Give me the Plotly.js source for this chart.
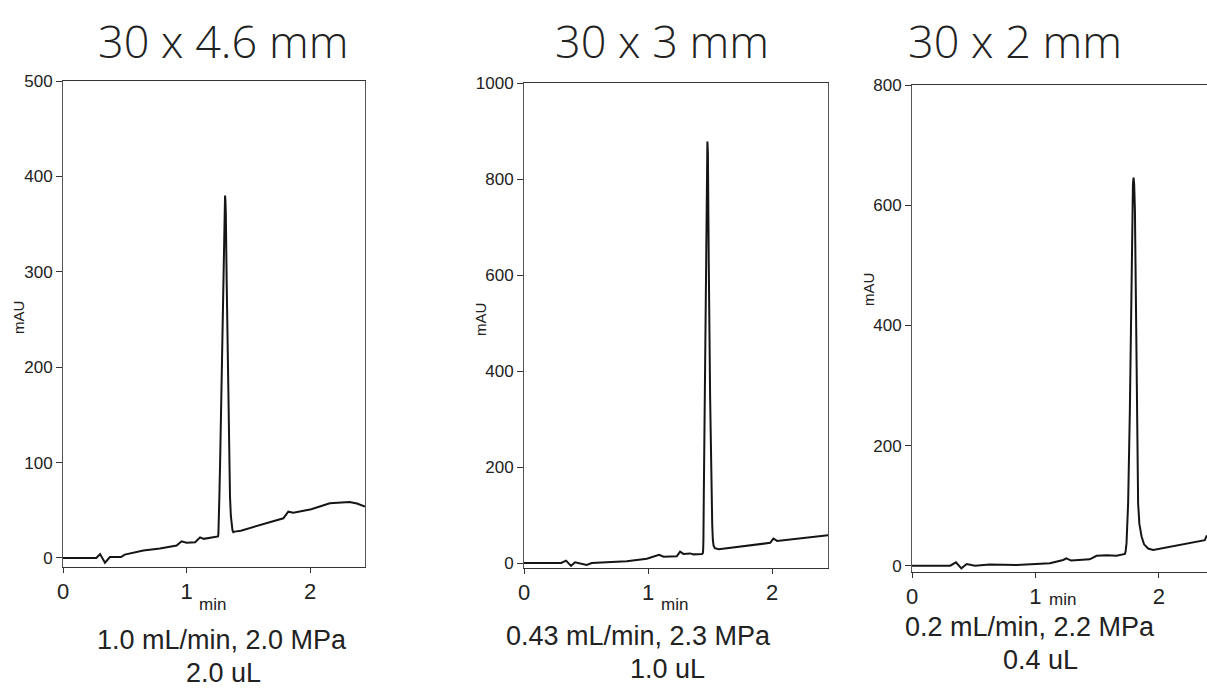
<!DOCTYPE html>
<html>
<head>
<meta charset="utf-8">
<script src="https://cdn.plot.ly/plotly-3.0.1.min.js"></script>
<style>
html,body{margin:0;padding:0;background:#fff;}
#chart{width:1207px;height:690px;}
</style>
</head>
<body>
<div id="chart"></div>
<script>
// ---- Data ----
const panelTitles = ["30 x 4.6 mm", "30 x 3 mm", "30 x 2 mm"];
const conditionLines = ["1.0 mL/min, 2.0 MPa", "0.43 mL/min, 2.3 MPa", "0.2 mL/min, 2.2 MPa"];
const volumeLines = ["2.0 uL", "1.0 uL", "0.4 uL"];
const xTickVals = [0, 1, 2];
const xTickText = ["0", "1", "2"];
const yTicks1 = [0, 100, 200, 300, 400, 500];
const yTicks2 = [0, 200, 400, 600, 800, 1000];
const yTicks3 = [0, 200, 400, 600, 800];

const p1Time = [0, 0.27, 0.30, 0.34, 0.38, 0.47, 0.50, 0.65, 0.785, 0.92, 0.96, 1.00, 1.07, 1.11, 1.14, 1.22,
  1.255, 1.258, 1.262, 1.266, 1.272, 1.279, 1.298, 1.306, 1.309, 1.312, 1.315, 1.318, 1.325, 1.338,
  1.345, 1.352, 1.359, 1.366, 1.372, 1.379, 1.39, 1.44,
  1.784, 1.824, 1.865, 2.01, 2.16, 2.32, 2.38, 2.445];
const p1mAU = [0, 0, 4, -5, 1, 1, 3.5, 7.7, 10, 13, 17.5, 16, 16.5, 21.6, 20, 21.6,
  22.5, 25, 40, 64, 100, 152, 291, 362, 375, 380, 375, 362, 291, 152,
  100, 64, 44, 33, 29, 27, 27.6, 28.6,
  41.6, 48.5, 47.5, 51, 57.3, 58.7, 57, 53.8];

const p2Time = [0, 0.30, 0.339, 0.379, 0.411, 0.465, 0.505, 0.546, 0.828, 0.99, 1.04, 1.089, 1.125, 1.231, 1.258,
  1.285, 1.339, 1.366, 1.433, 1.441, 1.444, 1.446, 1.449, 1.457, 1.465, 1.470, 1.474, 1.478, 1.482, 1.486,
  1.489, 1.50, 1.511, 1.517, 1.522, 1.528, 1.538, 1.554, 1.57, 1.984, 2.01, 2.04, 2.45];
const p2mAU = [0, 0, 5, -6, 1.4, -1.4, -4, 0, 3.5, 9, 13, 17, 13, 14, 23.6,
  19, 20, 18, 19, 20, 28, 48, 138, 346, 624, 780, 855, 878, 855, 780,
  624, 346, 138, 80, 48, 36, 31, 29, 28.5, 42, 51, 46, 58];

const p3Time = [0, 0.31, 0.356, 0.40, 0.443, 0.51, 0.63, 0.848, 1.117, 1.225, 1.25, 1.29, 1.44, 1.495, 1.576,
  1.657, 1.725, 1.731, 1.738, 1.745, 1.751, 1.765, 1.779, 1.784, 1.790, 1.795, 1.800, 1.806, 1.814, 1.819,
  1.832, 1.842, 1.86, 1.88, 1.913, 1.954, 2.372, 2.389];
const p3mAU = [0.5, 0.5, 6, -4, 3.3, 0.5, 2.5, 1.5, 4.4, 10, 12.7, 9, 11, 17, 18,
  17, 20, 25, 38, 65, 104, 259, 453, 592, 635, 646, 635, 592, 453, 259,
  104, 70, 49, 36, 29, 26.6, 43, 51];

// ---- Layout helpers (pixel -> paper) ----
const W = 1207, H = 690;
const px = v => v / W;
const py = v => 1 - v / H;

const lineStyle = {color: '#151515', width: 2};
const traces = [
  {x: p1Time, y: p1mAU, xaxis: 'x', yaxis: 'y', mode: 'lines', line: lineStyle, hoverinfo: 'skip'},
  {x: p2Time, y: p2mAU, xaxis: 'x2', yaxis: 'y2', mode: 'lines', line: lineStyle, hoverinfo: 'skip'},
  {x: p3Time, y: p3mAU, xaxis: 'x3', yaxis: 'y3', mode: 'lines', line: lineStyle, hoverinfo: 'skip'}
];

const tickFontY = {family: 'Liberation Sans, Arial, sans-serif', size: 17, color: '#222'};
const tickFontX = {family: 'Liberation Sans, Arial, sans-serif', size: 22, color: '#222'};

function xAxis(d, r, anchor) {
  return {domain: d, range: r, anchor: anchor, tickvals: xTickVals, ticktext: xTickText,
    ticks: 'outside', ticklen: 5, tickcolor: '#333', showline: true, linecolor: '#333', linewidth: 1,
    mirror: true, showgrid: false, zeroline: false, tickfont: tickFontX, fixedrange: true};
}
function yAxis(d, r, anchor, tv, mirror) {
  return {domain: d, range: r, anchor: anchor, tickvals: tv, ticks: 'outside', ticklen: 6,
    tickcolor: '#333', showline: true, linecolor: '#555', linewidth: 1, mirror: mirror,
    showgrid: false, zeroline: false, tickfont: tickFontY, fixedrange: true};
}

const titleFont = {family: 'Open Sans, sans-serif', size: 45, color: '#222', weight: 300};
const condFont = {family: 'Liberation Sans, Arial, sans-serif', size: 27, color: '#222'};
const smallFont = {family: 'Liberation Sans, Arial, sans-serif', size: 15, color: '#222'};
const minFont = {family: 'Liberation Sans, Arial, sans-serif', size: 17, color: '#222'};

function ann(text, x, y, font, extra) {
  return Object.assign({text: text, x: px(x), y: py(y), xref: 'paper', yref: 'paper',
    showarrow: false, font: font, xanchor: 'center', yanchor: 'middle', borderpad: 0}, extra || {});
}

const annotations = [
  ann(panelTitles[0], 223, 40, titleFont),
  ann(panelTitles[1], 662, 40, titleFont),
  ann(panelTitles[2], 1015, 40, titleFont),
  ann(conditionLines[0], 222, 640, condFont),
  ann(volumeLines[0], 223, 673, condFont),
  ann(conditionLines[1], 638, 636, condFont),
  ann(volumeLines[1], 667, 669, condFont),
  ann(conditionLines[2], 1030, 627, condFont),
  ann(volumeLines[2], 1040, 660, condFont),
  ann('mAU', 18, 318, smallFont, {textangle: -90}),
  ann('mAU', 480, 320, smallFont, {textangle: -90}),
  ann('mAU', 868, 290, smallFont, {textangle: -90}),
  ann('min', 198, 604, minFont, {xanchor: 'left'}),
  ann('min', 660, 604, minFont, {xanchor: 'left'}),
  ann('min', 1048, 599, minFont, {xanchor: 'left'})
];

const layout = {
  width: W, height: H,
  margin: {l: 0, r: 0, t: 0, b: 0},
  paper_bgcolor: '#fff', plot_bgcolor: '#fff',
  showlegend: false,
  xaxis: xAxis([px(63), px(365)], [0, 2.445], 'y'),
  yaxis: yAxis([py(567), py(81)], [-9.5, 500], 'x', yTicks1, true),
  xaxis2: xAxis([px(524), px(828)], [0, 2.45], 'y2'),
  yaxis2: yAxis([py(568), py(83)], [-10.4, 1000], 'x2', yTicks2, true),
  xaxis3: xAxis([px(912), 1], [0, 2.39], 'y3'),
  yaxis3: yAxis([py(572), py(85)], [-10, 800], 'x3', yTicks3, false),
  annotations: annotations
};

Plotly.newPlot('chart', traces, layout, {staticPlot: true, displayModeBar: false});
</script>
</body>
</html>
